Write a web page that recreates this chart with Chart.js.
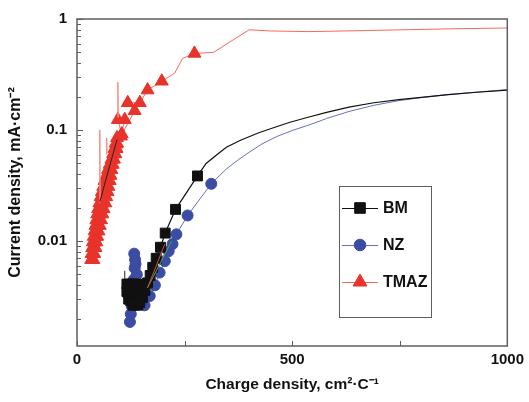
<!DOCTYPE html>
<html>
<head>
<meta charset="utf-8">
<script src="https://cdn.jsdelivr.net/npm/chart.js@4.4.1/dist/chart.umd.min.js"></script>
<style>
  html, body { margin: 0; padding: 0; background: #fff; }
</style>
</head>
<body>
<canvas id="myChart" width="529" height="402"></canvas>
<script>
// axis ticks
const xTicks = [0, 250, 500, 750, 1000];
const xLabels = [0, 500, 1000];
const yTicks = [0.002, 0.003, 0.004, 0.005, 0.006, 0.007, 0.008, 0.009,
  0.01, 0.02, 0.03, 0.04, 0.05, 0.06, 0.07, 0.08, 0.09,
  0.1, 0.2, 0.3, 0.4, 0.5, 0.6, 0.7, 0.8, 0.9, 1];
const yLabels = [0.01, 0.1, 1];
const yMin = 0.001135;

// BM (black squares)
const bmX = [116, 121, 125, 130, 134, 139, 144, 150, 144, 139, 134, 130, 125, 121, 116,
  120, 125, 130, 134, 139, 144, 150, 141, 136, 130, 146, 152, 158, 164, 170, 176, 184, 194, 205, 229, 280,
  300, 325, 347, 380, 424, 460, 493, 539, 580, 632, 690, 748, 800, 863, 930, 1000];
const bmY = [0.0041, 0.0041, 0.0040, 0.0041, 0.0040, 0.0041, 0.0040, 0.0038, 0.0035, 0.0034, 0.0035, 0.0034, 0.0035, 0.0034, 0.0035,
  0.0030, 0.0029, 0.0030, 0.0029, 0.0030, 0.0029, 0.0031, 0.00265, 0.00265, 0.00265, 0.0028, 0.0031, 0.0036, 0.0042, 0.0049, 0.0058, 0.0070, 0.0088, 0.0118, 0.0193, 0.0386,
  0.050, 0.060, 0.070, 0.081, 0.095, 0.106, 0.117, 0.131, 0.144, 0.161, 0.176, 0.188, 0.197, 0.208, 0.219, 0.229];
const bmLastMark = 280;

// NZ (blue circles)
const nzX = [123, 125, 127, 130, 132, 134, 135, 133, 136, 139, 141, 148, 157, 169, 181, 192, 204, 213, 222, 231, 257, 312,
  347, 375, 400, 430, 463, 500, 539, 580, 632, 690, 748, 800, 863, 930, 1000];
const nzY = [0.00187, 0.0022, 0.0026, 0.0033, 0.0045, 0.0057, 0.0068, 0.0077, 0.0062, 0.0050, 0.0038, 0.0029, 0.00264, 0.0032, 0.0040, 0.0052, 0.0066, 0.0081, 0.0094, 0.0115, 0.017, 0.0328,
  0.0446, 0.054, 0.063, 0.075, 0.087, 0.099, 0.111, 0.127, 0.147, 0.167, 0.184, 0.196, 0.209, 0.220, 0.231];
const nzLastMark = 312;

// TMAZ (red triangles)
const tmazX = [33, 35.5, 38, 40, 37, 34, 35.5, 39, 43, 45, 41, 37, 39, 43, 47, 50, 45.5, 41, 43, 48, 53, 56, 50.5, 45,
  47, 53, 59, 62, 56, 49, 52, 59, 66, 68, 62, 55, 58, 65, 71, 73, 67, 61, 64, 70, 76, 78, 73, 68, 72, 76, 80,
  83, 79, 76, 80, 83, 86, 89, 87, 84, 87, 90, 92, 93, 90, 93,
  92, 104, 95, 111, 102, 134, 118, 146, 164, 197, 227, 245, 273, 317, 400, 450, 539, 671, 863, 1000];
const tmazY = [0.0068, 0.0068, 0.0068, 0.0077, 0.0077, 0.0077, 0.0087, 0.0087, 0.0087, 0.0098, 0.0098, 0.0098, 0.0110, 0.0110, 0.0110, 0.0123, 0.0123, 0.0123, 0.0138, 0.0138, 0.0138, 0.0155, 0.0155, 0.0155,
  0.0175, 0.0175, 0.0175, 0.0195, 0.0195, 0.0195, 0.0220, 0.0220, 0.0220, 0.0250, 0.0250, 0.0250, 0.0278, 0.0278, 0.0278, 0.031, 0.031, 0.031, 0.035, 0.035, 0.035, 0.039, 0.039, 0.039, 0.044, 0.044, 0.044,
  0.049, 0.049, 0.049, 0.0545, 0.0545, 0.0545, 0.061, 0.061, 0.061, 0.068, 0.068, 0.068, 0.076, 0.076, 0.085,
  0.0745, 0.092, 0.124, 0.124, 0.088, 0.149, 0.176, 0.176, 0.229, 0.275, 0.325, 0.44, 0.49, 0.50, 0.80, 0.78, 0.77, 0.787, 0.815, 0.83];
const tmazLastMark = 273;
const tmazLineOnly = [227, 245];

// thin extra traces (null = break in line)
const redSpikeX = [53, 53, 54, 54, 69, 69, 70, 70, 95, 95, 96];
const redSpikeY = [0.022, 0.1, 0.024, null, 0.06, 0.085, 0.062, null, 0.13, 0.27, 0.13];
const blackThinX = [53, 93, 93, 111, 111];
const blackThinY = [0.0227, 0.082, null, 0.0046, 0.0054];
const redFitX = [164, 204];
const redFitY = [0.0038, 0.0094];
const greenFitX = [164, 220];
const greenFitY = [0.0038, 0.0100];

const zip = (xs, ys) => xs.map((x, i) => ({ x: x, y: ys[i] }));

const FONT = '"Liberation Sans", Arial, sans-serif';
Chart.defaults.font.family = FONT;
Chart.defaults.font.weight = 'bold';
Chart.defaults.font.size = 15;
Chart.defaults.color = '#111';

// frame + inward ticks
const frameTicks = {
  id: 'frameTicks',
  afterDraw(chart) {
    const { ctx, chartArea: a, scales: { x, y } } = chart;
    ctx.save();
    ctx.strokeStyle = '#5e5e5e';
    ctx.lineWidth = 1.5;
    ctx.strokeRect(a.left, a.top, a.right - a.left, a.bottom - a.top);
    ctx.lineWidth = 1;
    ctx.beginPath();
    xTicks.forEach(v => {
      const px = Math.round(x.getPixelForValue(v)) + 0.5;
      ctx.moveTo(px, a.bottom);
      ctx.lineTo(px, a.bottom - 5);
    });
    yTicks.forEach(v => {
      const py = Math.round(y.getPixelForValue(v)) + 0.5;
      ctx.moveTo(a.left, py);
      ctx.lineTo(a.left + (yLabels.includes(v) ? 6 : 4), py);
    });
    ctx.stroke();
    ctx.restore();
  }
};

// boxed legend inside the plot
const boxLegend = {
  id: 'boxLegend',
  afterDraw(chart) {
    const { ctx, chartArea: a } = chart;
    const left = a.left + 262, top = a.top + 167;
    ctx.save();
    ctx.strokeStyle = '#5e5e5e';
    ctx.lineWidth = 1;
    ctx.strokeRect(left + 0.5, top + 0.5, 92, 131);
    const items = chart.data.datasets.filter(d => d.inLegend);
    items.forEach((d, i) => {
      const yy = top + 22 + i * 37;
      ctx.strokeStyle = d.borderColor;
      ctx.lineWidth = 1;
      ctx.beginPath();
      ctx.moveTo(left + 3, yy + 0.5);
      ctx.lineTo(left + 39, yy + 0.5);
      ctx.stroke();
      ctx.fillStyle = d.pointBackgroundColor;
      ctx.strokeStyle = d.pointBackgroundColor;
      Chart.helpers.drawPoint(ctx, { pointStyle: d.pointStyle, radius: d.legendRadius, borderWidth: 1, rotation: 0 }, left + 21, yy);
      ctx.fillStyle = '#111';
      ctx.font = 'bold 16px ' + FONT;
      ctx.textBaseline = 'middle';
      ctx.fillText(d.label, left + 44, yy + 1);
    });
    ctx.restore();
  }
};

const ctx = document.getElementById('myChart').getContext('2d');

new Chart(ctx, {
  type: 'scatter',
  data: {
    datasets: [
      { label: 'fit1', data: zip(blackThinX, blackThinY), showLine: true, borderColor: '#222', borderWidth: 1, pointRadius: 0 },
      { label: 'fit2', data: zip(redFitX, redFitY), showLine: true, borderColor: '#d84a40', borderWidth: 1, pointRadius: 0 },
      { label: 'fit3', data: zip(greenFitX, greenFitY), showLine: true, borderColor: '#4aa552', borderWidth: 1, pointRadius: 0 },
      {
        label: 'BM', inLegend: true, legendRadius: 7.5,
        data: zip(bmX, bmY), showLine: true,
        borderColor: '#111', borderWidth: 1.2,
        pointStyle: 'rect', pointBackgroundColor: '#111', pointBorderColor: '#111', pointBorderWidth: 1,
        pointRadius: c => (c.raw && c.raw.x <= bmLastMark ? 7 : 0)
      },
      {
        label: 'NZ', inLegend: true, legendRadius: 5.8,
        data: zip(nzX, nzY), showLine: true,
        borderColor: '#6670c4', borderWidth: 1,
        pointStyle: 'circle', pointBackgroundColor: '#3b4ca3', pointBorderColor: '#3b4ca3', pointBorderWidth: 1,
        pointRadius: c => (c.raw && c.raw.x <= nzLastMark ? 5.5 : 0)
      },
      {
        label: 'spikes', data: zip(redSpikeX, redSpikeY), showLine: true, spanGaps: false,
        borderColor: '#f28a7f', borderWidth: 1, pointRadius: 0
      },
      {
        label: 'TMAZ', inLegend: true, legendRadius: 8,
        data: zip(tmazX, tmazY), showLine: true,
        borderColor: '#f26b5b', borderWidth: 1,
        pointStyle: 'triangle', pointBackgroundColor: '#e8332b', pointBorderColor: '#e8332b', pointBorderWidth: 1,
        pointRadius: c => (c.raw && c.raw.x <= tmazLastMark && !tmazLineOnly.includes(c.raw.x) ? 7.5 : 0)
      }
    ]
  },
  options: {
    responsive: false,
    animation: false,
    devicePixelRatio: 1,
    layout: { padding: { top: 15, right: 20, left: 0, bottom: 0 } },
    plugins: {
      legend: { display: false },
      tooltip: { enabled: false }
    },
    scales: {
      x: {
        type: 'linear',
        min: 0,
        max: 1000,
        afterBuildTicks: s => { s.ticks = xTicks.map(v => ({ value: v })); },
        afterFit: s => { s.height = 56; },
        grid: { display: false, drawTicks: false },
        border: { display: false },
        ticks: {
          autoSkip: false,
          maxRotation: 0,
          padding: 5,
          color: '#111',
          callback: v => (xLabels.includes(v) ? String(v) : '')
        },
        title: {
          display: true,
          text: 'Charge density, cm²·C⁻¹',
          color: '#111',
          font: { size: 15.5, weight: 'bold' },
          padding: { top: 0, bottom: 8 }
        }
      },
      y: {
        type: 'logarithmic',
        min: yMin,
        max: 1,
        afterBuildTicks: s => { s.ticks = yTicks.map(v => ({ value: v })); },
        afterFit: s => { s.width = 77; },
        grid: { display: false, drawTicks: false },
        border: { display: false },
        ticks: {
          autoSkip: false,
          padding: 10,
          color: '#111',
          callback: v => (yLabels.includes(v) ? String(v) : '')
        },
        title: {
          display: true,
          text: 'Current density, mA·cm⁻²',
          color: '#111',
          font: { size: 16, weight: 'bold' },
          padding: { top: 6, bottom: 0 }
        }
      }
    }
  },
  plugins: [frameTicks, boxLegend]
});
</script>
</body>
</html>
